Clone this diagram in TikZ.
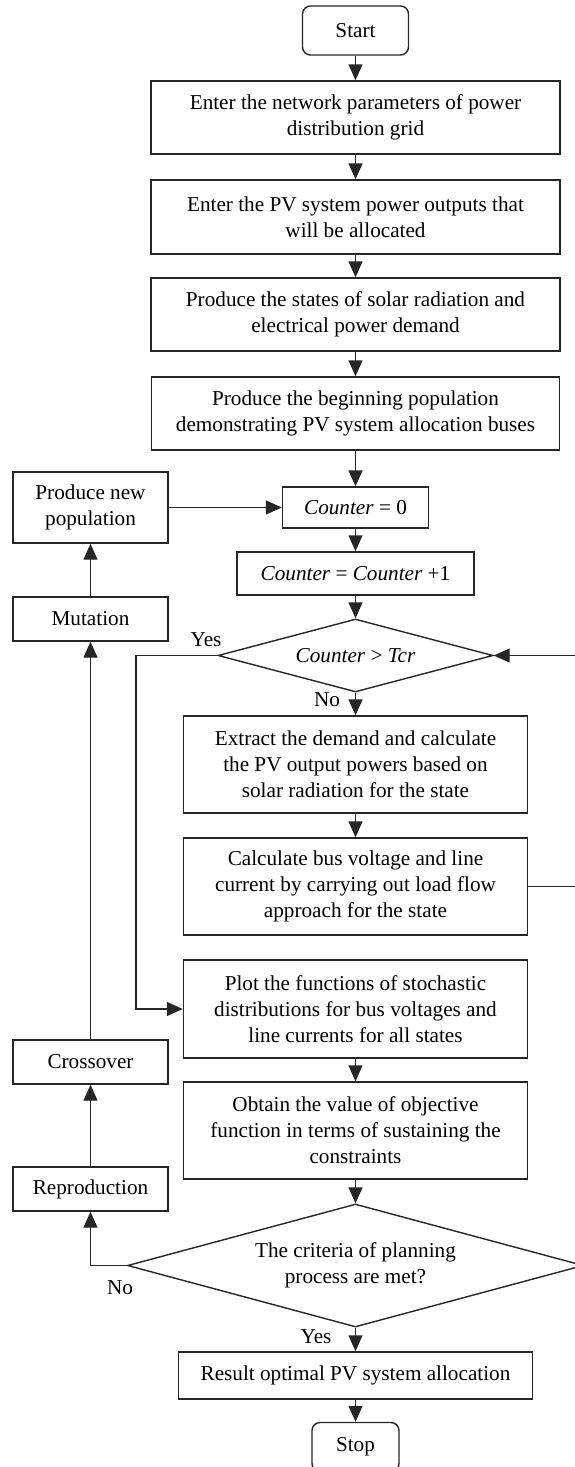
\documentclass[tikz,border=0pt]{standalone}
\usepackage{fontspec}
\setmainfont{Liberation Serif}
\usetikzlibrary{arrows.meta}
\usetikzlibrary{shapes.geometric}

\begin{document}
\begin{tikzpicture}[x=.5pt,y=-.5pt,line width=.7pt,
  font=\fontsize{10.6}{13}\selectfont,
  >={Triangle[length=8pt,width=7pt]},
  box/.style={draw=black!85,rectangle,inner sep=0pt,align=center},
  term/.style={box,rounded corners=4pt},
  test/.style={draw=black!85,diamond,inner sep=0pt,align=center,aspect=3.7},
  link/.style={draw=black!85,->}]
\useasboundingbox (0,0) rectangle (574,1467);
\node[term,minimum width=53pt,minimum height=24.5pt] (start) at (355.5,30.5) {Start};
\node[box,minimum width=204.5pt,minimum height=36.5pt] (params) at (355.5,117.5) {Enter the network parameters of power\\distribution grid};
\node[box,minimum width=204.5pt,minimum height=37pt] (outputs) at (355.5,217) {Enter the PV system power outputs that\\will be allocated};
\node[box,minimum width=204.5pt,minimum height=36.5pt] (states) at (355.5,314.5) {Produce the states of solar radiation and\\electrical power demand};
\node[box,minimum width=204pt,minimum height=36.5pt] (initpop) at (355.5,413.5) {Produce the beginning population\\demonstrating PV system allocation buses};
\node[box,minimum width=73pt,minimum height=20.5pt] (cntzero) at (355.5,507.5) {\textit{Counter} = 0};
\node[box,minimum width=118.5pt,minimum height=21.5pt] (cntinc) at (355.5,573.5) {\textit{Counter} = \textit{Counter} +1};
\node[test,minimum width=137.5pt,minimum height=36.5pt] (cnttest) at (355.5,655.5) {\textit{Counter} > \textit{Tcr}};
\node[box,minimum width=172pt,minimum height=48.5pt] (extract) at (355.5,764.5) {Extract the demand and calculate\\the PV output powers based on\\solar radiation for the state};
\node[box,minimum width=172pt,minimum height=48.5pt] (loadflow) at (355.5,886.5) {Calculate bus voltage and line\\current by carrying out load flow\\approach for the state};
\node[box,minimum width=172pt,minimum height=49pt] (plotpdf) at (355.5,1009) {Plot the functions of stochastic\\distributions for bus voltages and\\line currents for all states};
\node[box,minimum width=172pt,minimum height=48.5pt] (objective) at (355.5,1130.5) {Obtain the value of objective\\function in terms of sustaining the\\constraints};
\node[test,minimum width=228pt,minimum height=61.5pt] (criteria) at (355.5,1265.5) {The criteria of planning\\process are met?};
\node[box,minimum width=177pt,minimum height=23.5pt] (result) at (355.5,1375.5) {Result optimal PV system allocation};
\node[term,minimum width=43.5pt,minimum height=24.5pt] (stop) at (355.5,1447) {Stop};
\node[box,minimum width=77.5pt,minimum height=35.5pt] (newpop) at (90.5,507.5) {Produce new\\population};
\node[box,minimum width=77.5pt,minimum height=22pt] (mutation) at (90.5,619) {Mutation};
\node[box,minimum width=77.5pt,minimum height=22pt] (crossover) at (90.5,1062) {Crossover};
\node[box,minimum width=77.5pt,minimum height=22pt] (reproduction) at (90.5,1189) {Reproduction};
\node (yesa) at (206,640) {Yes};
\node (noa) at (327,700) {No};
\node (nob) at (120,1288) {No};
\node (yesb) at (316,1337) {Yes};
\coordinate (yesbend) at (136,1009);
\coordinate (backright) at (579,655.5);
\foreach \a/\b in {start/params,params/outputs,outputs/states,states/initpop,initpop/cntzero,
  cntzero/cntinc,cntinc/cnttest,cnttest/extract,extract/loadflow,plotpdf/objective,
  objective/criteria,criteria/result,result/stop,newpop/cntzero,mutation/newpop,
  crossover/mutation,reproduction/crossover}
 \draw[link] (\a)--(\b);
\draw[link] (cnttest.west) -| (yesbend)--(plotpdf.west);
\draw[link] (loadflow.east) -| (backright)--(cnttest.east);
\draw[link] (criteria.west) -| (reproduction);
\end{tikzpicture}
\end{document}
